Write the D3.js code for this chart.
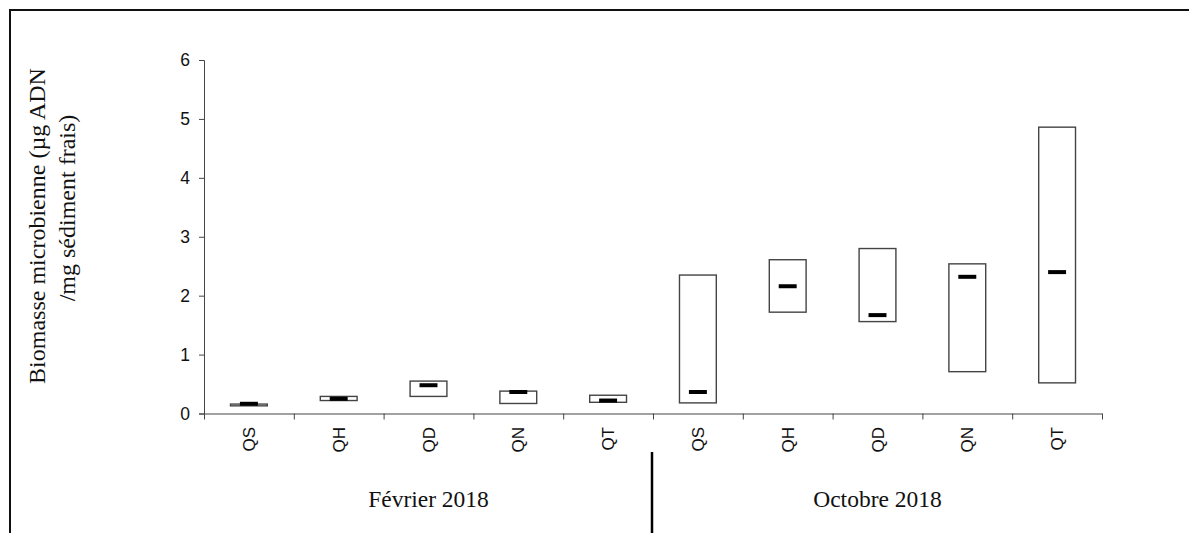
<!DOCTYPE html>
<html>
<head>
<meta charset="utf-8">
<script src="https://cdn.jsdelivr.net/npm/d3@7"></script>
<style>
  html, body { margin: 0; padding: 0; background: #fff; }
  svg { display: block; }
</style>
</head>
<body>
<svg id="chart" width="1189" height="533"></svg>
<script>
// ---- data ----
const periods = ["Février 2018", "Octobre 2018"];
const sites = ["QS", "QH", "QD", "QN", "QT"];
const categories = ["Feb-QS", "Feb-QH", "Feb-QD", "Feb-QN", "Feb-QT",
                    "Oct-QS", "Oct-QH", "Oct-QD", "Oct-QN", "Oct-QT"];
const lowValues    = [0.13, 0.22, 0.29, 0.17, 0.19, 0.18, 1.72, 1.56, 0.71, 0.52];
const highValues   = [0.16, 0.29, 0.55, 0.38, 0.31, 2.35, 2.61, 2.80, 2.54, 4.86];
const medianValues = [0.165, 0.25, 0.48, 0.365, 0.22, 0.365, 2.16, 1.67, 2.32, 2.40];
const yTicks = [0, 1, 2, 3, 4, 5, 6];
const yTitleLines = ["Biomasse microbienne (µg ADN", "/mg sédiment frais)"];

// ---- layout ----
const svg = d3.select("#chart");
const x0 = 204, x1 = 1102, yBottom = 413.5, yTop = 60;

const x = d3.scaleBand().domain(categories).range([x0, x1]).padding(0);
const xb = d3.scaleLinear().domain([0, categories.length]).range([x0, x1]);
const y = d3.scaleLinear().domain([0, 6]).range([yBottom, yTop]);

// frame (top + left only)
svg.append("path")
  .attr("d", "M10,533 L10,10 L1189,10")
  .attr("fill", "none").attr("stroke", "#111").attr("stroke-width", 2);

// y axis
const yAxis = svg.append("g")
  .attr("transform", `translate(${x0},0)`)
  .call(d3.axisLeft(y).tickValues(yTicks).tickSize(5).tickPadding(9).tickFormat(d3.format("d")));
yAxis.selectAll("path, line").attr("stroke", "#444").attr("stroke-width", 1);
yAxis.selectAll("text")
  .attr("font-family", "'Liberation Sans', Arial, sans-serif")
  .attr("font-size", 17.5).attr("fill", "#111");

// x axis (ticks at category boundaries)
const xAxis = svg.append("g")
  .attr("transform", `translate(0,${yBottom})`)
  .call(d3.axisBottom(xb).tickValues(d3.range(categories.length + 1)).tickSize(6).tickSizeOuter(0).tickFormat(""));
xAxis.selectAll("path, line").attr("stroke", "#444").attr("stroke-width", 1);

// category labels (rotated)
svg.append("g").selectAll("text")
  .data(categories)
  .join("text")
  .attr("transform", d => `translate(${x(d) + x.bandwidth() / 2 + 6},427) rotate(-90)`)
  .attr("text-anchor", "end")
  .attr("font-family", "'Liberation Sans', Arial, sans-serif")
  .attr("font-size", 17).attr("fill", "#111")
  .text((d, i) => sites[i % sites.length]);

// boxes
const boxW = x.bandwidth() * 0.41;
const medW = x.bandwidth() * 0.2;
svg.append("g").selectAll("rect")
  .data(categories)
  .join("rect")
  .attr("x", d => x(d) + x.bandwidth() / 2 - boxW / 2)
  .attr("width", boxW)
  .attr("y", (d, i) => y(highValues[i]))
  .attr("height", (d, i) => y(lowValues[i]) - y(highValues[i]))
  .attr("fill", "#fff").attr("stroke", "#444").attr("stroke-width", 1.4);

// medians
svg.append("g").selectAll("line")
  .data(categories)
  .join("line")
  .attr("x1", d => x(d) + x.bandwidth() / 2 - medW / 2)
  .attr("x2", d => x(d) + x.bandwidth() / 2 + medW / 2)
  .attr("y1", (d, i) => y(medianValues[i]))
  .attr("y2", (d, i) => y(medianValues[i]))
  .attr("stroke", "#000").attr("stroke-width", 4);

// period labels
svg.append("g").selectAll("text")
  .data(periods)
  .join("text")
  .attr("x", (d, i) => (xb(i * 5) + xb(i * 5 + 5)) / 2)
  .attr("y", 507)
  .attr("text-anchor", "middle")
  .attr("font-family", "'Liberation Serif', 'Times New Roman', serif")
  .attr("font-size", 23.5).attr("fill", "#111")
  .text(d => d);

// divider between periods
svg.append("line")
  .attr("x1", xb(5) - 1).attr("x2", xb(5) - 1)
  .attr("y1", 452).attr("y2", 533)
  .attr("stroke", "#000").attr("stroke-width", 2.5);

// y title
const titleCenters = [226, 208];
const titleX = [45, 75];
svg.append("g").selectAll("text")
  .data(yTitleLines)
  .join("text")
  .attr("transform", (d, i) => `translate(${titleX[i]},${titleCenters[i]}) rotate(-90)`)
  .attr("text-anchor", "middle")
  .attr("font-family", "'Liberation Serif', 'Times New Roman', serif")
  .attr("font-size", 24).attr("fill", "#111")
  .text(d => d);
</script>
</body>
</html>
